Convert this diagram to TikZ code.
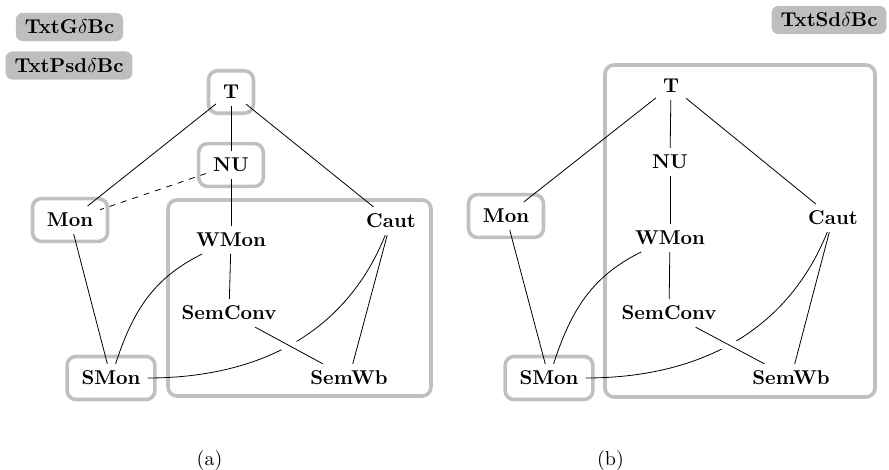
\documentclass[tikz,border=0pt]{standalone}
\usetikzlibrary{fit,backgrounds}
\definecolor{framegray}{RGB}{192,192,192}
\definecolor{tabgray}{RGB}{190,190,190}
\begin{document}
\begin{tikzpicture}[x=0.5pt,y=0.5pt,
  lbl/.style={font=\bfseries, inner sep=0.3333em},
  grpframe/.style={draw=framegray, line width=1.8pt, rounded corners=4.5pt, inner sep=3.7pt},
  tab/.style={fill=tabgray, rounded corners=3.5pt, font=\bfseries, inner xsep=4.5pt, inner ysep=3.5pt},
  link/.style={line width=0.4pt},
  over/.style={preaction={draw=white, line width=7pt}}
]
\useasboundingbox (0,0) rectangle (889,-470);

% property tabs
\node[tab] (tabG) at (69.5,-27) {TxtG$\delta$Bc};
\node[tab] (tabPsd) at (69,-65.5) {TxtPsd$\delta$Bc};
\node[tab] (tabSd) at (829,-20) {TxtSd$\delta$Bc};

% ---------- panel (a) ----------
\node[lbl] (aT) at (231,-92) {T};
\node[lbl] (aNU) at (231,-165) {NU};
\node[lbl] (aMon) at (70,-220) {Mon};
\node[lbl] (aCaut) at (391,-221) {Caut};
\node[lbl] (aWMon) at (231,-240) {WMon};
\node[lbl] (aSemConv) at (229,-313) {SemConv};
\node[lbl] (aSMon) at (111,-378) {SMon};
\node[lbl] (aSemWb) at (349,-378) {SemWb};

\begin{scope}[on background layer]
  \node[grpframe, fit=(aT)] (aTf) {};
  \node[grpframe, fit=(aNU)] (aNUf) {};
  \node[grpframe, fit=(aMon)] (aMonf) {};
  \node[grpframe, fit=(aSMon)] (aSMonf) {};
  \draw[grpframe] (168,-200) rectangle (431,-396);
\end{scope}

\draw[link] (aT) -- (aMon);
\draw[link] (aT) -- (aNU);
\draw[link] (aT) -- (aCaut);
\draw[link] (aNU) -- (aWMon);
\draw[link, dashed] (aNU) -- (aMon);
\draw[link] (aMon) -- (aSMon);
\draw[link] (aWMon) to[out=206, in=72] (aSMon);
\draw[link] (aWMon) -- (aSemConv);
\draw[link] (aCaut) to[out=248, in=0] (aSMon);
\draw[link] (aCaut) -- (aSemWb);
\draw[link, over] (aSemConv) -- (aSemWb);

\node (capA) at (209.5,-460) {(a)};

% ---------- panel (b) ----------
\node[lbl] (bT) at (671,-86) {T};
\node[lbl] (bNU) at (670,-162) {NU};
\node[lbl] (bMon) at (506,-216) {Mon};
\node[lbl] (bCaut) at (833,-218) {Caut};
\node[lbl] (bWMon) at (670,-238) {WMon};
\node[lbl] (bSemConv) at (669,-313) {SemConv};
\node[lbl] (bSMon) at (549,-378) {SMon};
\node[lbl] (bSemWb) at (791,-378) {SemWb};

\begin{scope}[on background layer]
  \node[grpframe, fit=(bMon)] (bMonf) {};
  \node[grpframe, fit=(bSMon)] (bSMonf) {};
  \draw[grpframe] (605,-65) rectangle (875,-397);
\end{scope}

\draw[link] (bT) -- (bMon);
\draw[link] (bT) -- (bNU);
\draw[link] (bT) -- (bCaut);
\draw[link] (bNU) -- (bWMon);
\draw[link] (bMon) -- (bSMon);
\draw[link] (bWMon) to[out=206, in=72] (bSMon);
\draw[link] (bWMon) -- (bSemConv);
\draw[link] (bCaut) to[out=248, in=0] (bSMon);
\draw[link] (bCaut) -- (bSemWb);
\draw[link, over] (bSemConv) -- (bSemWb);

\node (capB) at (610.5,-460) {(b)};
\end{tikzpicture}
\end{document}
